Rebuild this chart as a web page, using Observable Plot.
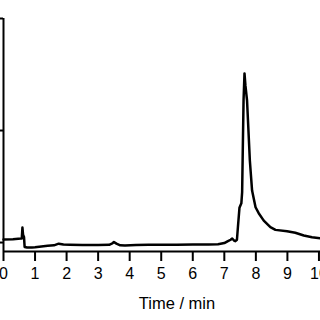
<!DOCTYPE html>
<html>
<head>
<meta charset="utf-8">
<script src="https://cdn.jsdelivr.net/npm/d3@7"></script>
<script src="https://cdn.jsdelivr.net/npm/@observablehq/plot@0.6"></script>
<style>
  html, body { margin: 0; padding: 0; background: white; overflow: hidden; }
  #chart { width: 320px; height: 320px; overflow: hidden; }
</style>
</head>
<body>
<div id="chart"></div>
<script>
// Retention time (min) and detector signal (arbitrary units)
const times = [0, 0.3, 0.55, 0.58, 0.6, 0.62, 0.65, 0.67, 0.75, 0.9, 1.0, 1.2, 1.4, 1.6, 1.75, 1.9, 2.1, 2.5, 3.0, 3.35, 3.45, 3.5, 3.58, 3.7, 3.85, 4.2, 4.6, 5.0, 5.5, 6.0, 6.5, 6.8, 7.0, 7.1, 7.2, 7.25, 7.3, 7.35, 7.4, 7.43, 7.48, 7.54, 7.565, 7.58, 7.61, 7.64, 7.67, 7.72, 7.81, 7.88, 7.99, 8.09, 8.25, 8.46, 8.62, 8.99, 9.25, 9.52, 9.78, 10.05, 10.2];
const signal = [0.027, 0.03, 0.036, 0.036, 0.134, 0.07, 0.05, -0.04, -0.045, -0.045, -0.043, -0.036, -0.028, -0.025, -0.01, -0.018, -0.02, -0.022, -0.022, -0.02, -0.008, 0.005, -0.01, -0.025, -0.027, -0.022, -0.02, -0.02, -0.019, -0.018, -0.018, -0.015, -0.005, 0.01, 0.025, 0.036, 0.02, 0.012, 0.025, 0.134, 0.31, 0.35, 0.45, 0.73, 1.27, 1.51, 1.4, 1.27, 0.73, 0.464, 0.315, 0.262, 0.196, 0.137, 0.113, 0.101, 0.087, 0.0625, 0.047, 0.038, 0.035];
const xTicks = [0, 1, 2, 3, 4, 5, 6, 7, 8, 9, 10, 11];
const xTickLabels = ["0", "1", "2", "3", "4", "5", "6", "7", "8", "9", "10", "11"];
const yTicks = [0, 1, 2];
const xLabel = "Time / min";

const data = times.map((t, i) => ({t, s: signal[i]}));

const chart = Plot.plot({
  width: 350,
  height: 320,
  marginLeft: 3,
  marginRight: 0,
  marginTop: 18,
  marginBottom: 69,
  x: {domain: [0, 11]},
  y: {domain: [-0.08, 2]},
  style: {fontFamily: "'Liberation Sans', Arial, sans-serif", fontSize: "16px", color: "black", background: "white", overflow: "visible", maxWidth: "none"},
  marks: [
    Plot.axisX({ticks: xTicks, tickFormat: (d) => xTickLabels[xTicks.indexOf(d)], tickSize: 10, tickPadding: 6, strokeWidth: 2, fontSize: 16, label: null}),
    Plot.axisX({ticks: [], label: xLabel, fontSize: 16.5, labelAnchor: "center", labelOffset: 57, labelArrow: "none", tickSize: 0}),
    Plot.axisY({ticks: yTicks, tickSize: 3, tickFormat: () => "", strokeWidth: 2, label: null}),
    Plot.ruleX([0], {strokeWidth: 2, stroke: "black"}),
    Plot.ruleY([-0.08], {strokeWidth: 2, stroke: "black"}),
    Plot.line(data, {x: "t", y: "s", stroke: "black", strokeWidth: 2.5})
  ]
});
document.getElementById("chart").appendChild(chart);
</script>
</body>
</html>
